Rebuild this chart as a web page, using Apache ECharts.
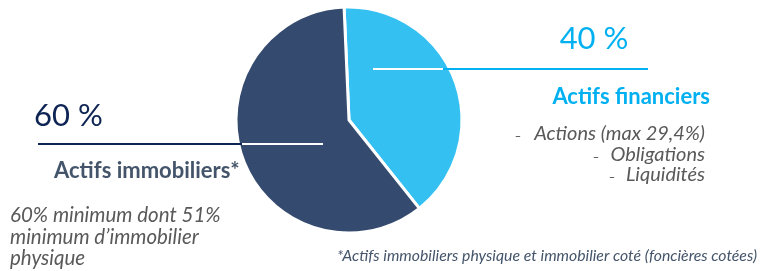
<!DOCTYPE html>
<html><head><meta charset="utf-8">
<script src="https://cdn.jsdelivr.net/npm/echarts@6/dist/echarts.min.js"></script>
<style>html,body{margin:0;padding:0;background:#fff}#c{width:763px;height:271px}</style>
</head><body><div id="c"></div>
<script>
var categories = ['Actifs financiers', 'Actifs immobiliers*'];
var values = [40, 60];
var percentLabels = ['40 %', '60 %'];
var colors = ['#35C0F2', '#344A6E'];
var financierItems = ['Actions (max 29,4%)', 'Obligations', 'Liquidités'];
var immoNoteLines = ['60% minimum dont 51%', 'minimum d\u2019immobilier', 'physique'];
var footnote = '*Actifs immobiliers physique et immobilier coté (foncières cotées)';

var FONT = 'Lato, "Open Sans", sans-serif';
var chart = echarts.init(document.getElementById('c'), null, {renderer: 'canvas'});

function txt(x, y, text, size, color, opts) {
  opts = opts || {};
  return {
    type: 'text', z: 100,
    style: {
      x: x, y: y, text: text,
      font: (opts.italic ? 'italic ' : '') + (opts.bold ? 'bold ' : '') + size + 'px ' + FONT,
      fill: color, align: opts.align || 'left', verticalAlign: 'middle'
    }
  };
}
function line(x1, y1, x2, y2, color) {
  return {type: 'line', z: 100, shape: {x1: x1, y1: y1, x2: x2, y2: y2}, style: {stroke: color, lineWidth: 2}};
}

var graphics = [
  line(38, 144, 242, 144, '#0E2454'),
  line(242, 144, 323, 144, '#ffffff'),
  line(373, 69, 443, 69, '#ffffff'),
  line(443, 69, 648, 69, '#00B0F0'),
  txt(34, 116, percentLabels[1], 31, '#0E2454'),
  txt(594, 39, percentLabels[0], 31, '#00B0F0', {align: 'center'}),
  txt(54, 171, categories[1], 22, '#44546A', {bold: true}),
  txt(710, 97, categories[0], 22, '#00B0F0', {bold: true, align: 'right'}),
  txt(337, 256, footnote, 15.8, '#44546A', {italic: true})
];
var dashX = [518, 596, 612];
var dashY = [136, 157, 177];
var itemY = [134, 154.5, 175];
financierItems.forEach(function (t, i) {
  graphics.push(txt(705, itemY[i], t, 20, '#595959', {italic: true, align: 'right'}));
  graphics.push(txt(dashX[i], dashY[i], '\u2013', 11, '#333333', {align: 'center'}));
});
var noteY = [215.5, 237.5, 258.5];
immoNoteLines.forEach(function (t, i) {
  graphics.push(txt(10, noteY[i], t, 20.5, '#595959', {italic: true}));
});

chart.setOption({
  animation: false,
  series: [{
    type: 'pie',
    center: [349, 120],
    radius: 113,
    startAngle: 92.5,
    clockwise: true,
    label: {show: false},
    labelLine: {show: false},
    itemStyle: {borderColor: '#ffffff', borderWidth: 3},
    emphasis: {disabled: true},
    data: categories.map(function (c, i) {
      return {name: c, value: values[i], itemStyle: {color: colors[i]}};
    })
  }],
  graphic: graphics
});
</script></body></html>
